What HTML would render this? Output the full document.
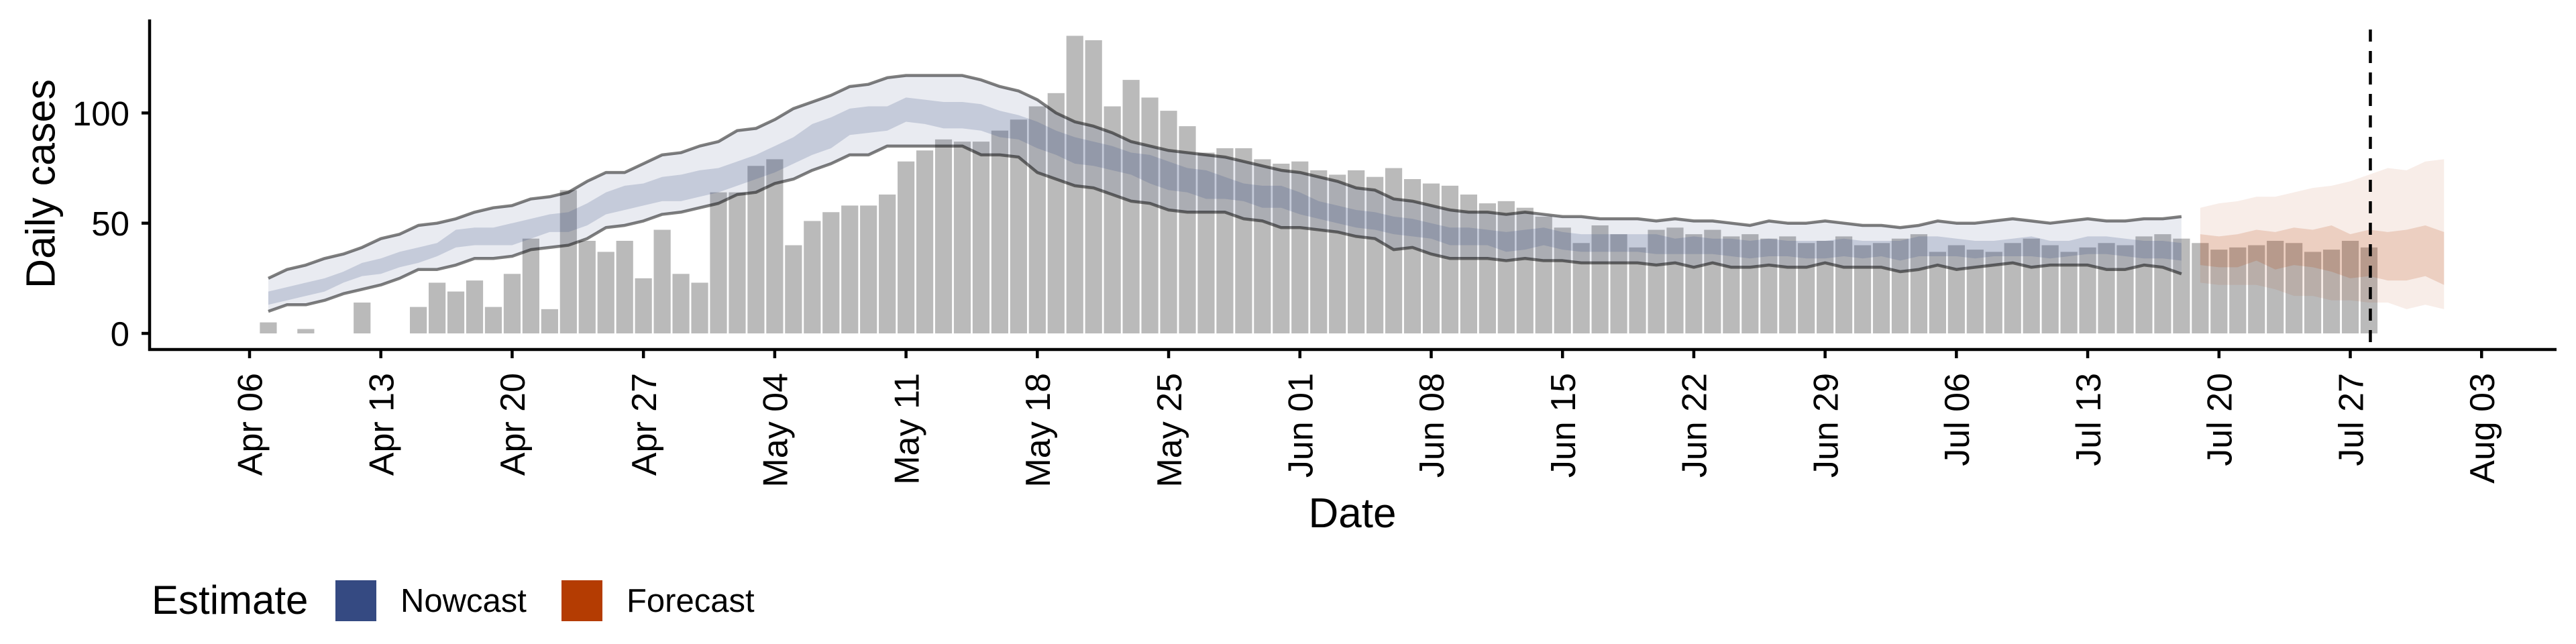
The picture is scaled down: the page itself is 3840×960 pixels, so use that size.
<!DOCTYPE html>
<html><head><meta charset="utf-8"><style>
html,body{margin:0;padding:0;background:#fff;}
svg{display:block;font-family:"Liberation Sans",Arial,sans-serif;}
</style></head><body>
<svg id="chart" width="3840" height="960" viewBox="0 0 3840 960" xmlns="http://www.w3.org/2000/svg">
<g id="bands"></g>
<g id="bars"></g>
<g id="ribbons"></g>
<g id="lines"></g>
<g id="axes"></g>
<text transform="translate(60,274) rotate(-90)" text-anchor="middle" font-size="61" dy="0.35em">Daily cases</text>
<text x="2016" y="786" text-anchor="middle" font-size="62">Date</text>
<g>
<text x="226" y="915" font-size="60">Estimate</text>
<rect x="500" y="865" width="61" height="61" fill="#354a82"/>
<text x="597" y="912" font-size="49">Nowcast</text>
<rect x="837" y="865" width="61" height="61" fill="#b43c02"/>
<text x="934" y="912" font-size="49">Forecast</text>
</g>
</svg>
<script>
// Reported cases, daily from Apr 07 to Jul 28
const casesApr = [5,0,2,0,0,14,0,0,12,23,19,24,12,27,43,11,65,42,37,42,25,47,27,23];
const casesMay = [64,64,76,79,40,51,55,58,58,63,78,83,88,87,87,92,97,103,109,135,133,103,115,107,101,94,82,84,84,79,77];
const casesJun = [78,74,72,74,71,75,70,68,67,63,59,60,57,53,48,41,49,45,39,47,48,45,47,44,45,43,44,41,42,44];
const casesJul = [40,41,43,45,37,40,38,37,41,43,40,37,39,41,40,44,45,43,41,38,39,40,42,41,37,38,42,39];
// Nowcast intervals, daily from Apr 07 to Jul 18
const nowUpper90 = [25,29,31,34,36,39,43,45,49,50,52,55,57,58,61,62,64,69,73,73,77,81,82,85,
 87,92,93,97,102,105,108,112,113,116,117,117,117,117,115,112,110,106,100,96,94,91,87,85,83,82,81,80,78,76,74,
 73,71,69,66,65,61,60,58,56,55,55,54,55,54,53,53,52,52,52,51,52,51,51,50,49,51,50,50,51,50,
 49,49,48,49,51,50,50,51,52,51,50,51,52,51,51,52,52,53];
const nowLower90 = [10,13,13,15,18,20,22,25,29,29,31,34,34,35,38,39,40,43,48,49,51,54,55,57,
 59,63,64,68,70,74,77,81,81,85,85,85,85,85,81,81,80,73,70,67,66,63,60,59,56,55,55,55,52,51,48,
 48,47,46,44,43,38,39,36,34,34,34,33,34,33,33,32,32,32,32,31,32,30,32,30,30,31,30,30,32,30,
 30,30,28,29,31,29,30,31,32,30,31,31,31,29,29,31,30,27];
const nowUpper50 = [19,21,23,25,28,32,34,37,39,41,47,48,48,50,52,54,55,59,64,67,68,71,72,74,
 75,78,81,85,89,95,98,102,103,103,107,106,105,105,104,101,99,96,92,89,87,85,82,81,78,75,74,71,68,67,67,
 64,60,58,56,55,53,52,50,48,48,47,46,47,48,46,45,45,45,45,45,43,44,43,43,42,43,42,42,42,43,
 42,42,42,44,44,43,42,42,43,44,42,42,44,44,43,42,42,41];
const nowLower50 = [13,15,17,19,23,26,27,30,32,35,39,40,40,40,43,46,46,49,54,56,58,60,60,62,
 64,67,70,73,77,81,84,90,91,92,96,95,93,93,92,89,88,84,81,77,76,74,72,68,65,64,61,61,60,57,57,
 54,52,50,48,47,45,44,43,40,40,40,37,38,40,38,37,37,37,37,36,36,36,36,35,34,35,35,34,34,35,
 34,35,33,35,35,35,34,35,35,35,34,35,36,36,35,34,34,33];
// Forecast intervals, daily from Jul 19 to Aug 01
const fcUpper90 = [57,59,60,62,62,64,66,67,69,72,75,74,78,79];
const fcLower90 = [23,22,22,22,20,17,17,15,15,14,14,11,13,11];
const fcUpper50 = [45,44,45,47,46,48,47,49,45,47,46,47,49,46];
const fcLower50 = [31,30,30,33,29,31,30,28,25,26,24,24,26,22];
// Axis ticks
const yTicks = [0,50,100];
const xTickLabels = ["Apr 06","Apr 13","Apr 20","Apr 27","May 04","May 11","May 18","May 25","Jun 01","Jun 08","Jun 15","Jun 22","Jun 29","Jul 06","Jul 13","Jul 20","Jul 27","Aug 03"];
const casesStartDay = 1;   // Apr 07 (days after Apr 06)
const nowStartDay = 1;     // Apr 07
const fcStartDay = 104;    // Jul 19
const forecastDateDay = 113; // Jul 28

const NS = "http://www.w3.org/2000/svg";
const X0 = 372, DAY = 27.96, Y0 = 497, UNIT = 3.286;
function xs(d){ return X0 + d*DAY; }
function ys(v){ return Y0 - v*UNIT; }
function mk(tag, attrs, parent){
  const e = document.createElementNS(NS, tag);
  for (const k in attrs) e.setAttribute(k, attrs[k]);
  parent.appendChild(e); return e;
}
const cases = casesApr.concat(casesMay, casesJun, casesJul);

// bars
const barsG = document.getElementById('bars');
cases.forEach((v,i)=>{
  const d = casesStartDay + i;
  const r = mk('rect', {x: xs(d)-12.6, y: ys(v), width: 25.2, height: v*UNIT, fill:'#bababa'}, barsG);
  
  
});

// ribbons
const ribG = document.getElementById('ribbons');
function ribbon(up, lo, start, color, op, name){
  let pts = up.map((v,i)=>xs(start+i)+','+ys(v));
  pts = pts.concat(lo.map((v,i)=>xs(start+i)+','+ys(v)).reverse());
  const p = mk('polygon', {points: pts.join(' '), fill: color, 'fill-opacity': op}, ribG);
  
  
}
ribbon(nowUpper90, nowLower90, nowStartDay, '#354a82', 0.11, 'nowcast-90-band');
ribbon(nowUpper50, nowLower50, nowStartDay, '#354a82', 0.2, 'nowcast-50-band');
ribbon(fcUpper90, fcLower90, fcStartDay, '#b43c02', 0.09, 'forecast-90-band');
ribbon(fcUpper50, fcLower50, fcStartDay, '#b43c02', 0.17, 'forecast-50-band');

// interval lines
const linesG = document.getElementById('lines');
function line(arr, start, name){
  const p = mk('polyline', {points: arr.map((v,i)=>xs(start+i)+','+ys(v)).join(' '), fill:'none', stroke:'#000', 'stroke-opacity':0.5, 'stroke-width':4.5, 'stroke-linejoin':'round'}, linesG);
  
  
}
line(nowUpper90, nowStartDay, 'nowcast-upper-line');
line(nowLower90, nowStartDay, 'nowcast-lower-line');

// dashed forecast-date line
const dl = mk('line', {x1: xs(forecastDateDay)+2, x2: xs(forecastDateDay)+2, y1: 44, y2: 521, stroke:'#000', 'stroke-width':4.5, 'stroke-dasharray':'18 14'}, linesG);



// axes
const axG = document.getElementById('axes');
const ya = mk('line', {x1:223, x2:223, y1:29, y2:523, stroke:'#000', 'stroke-width':4.5}, axG);


const xa = mk('line', {x1:221, x2:3811, y1:521, y2:521, stroke:'#000', 'stroke-width':4.5}, axG);


yTicks.forEach(v=>{
  const t = mk('line', {x1:211, x2:223, y1:ys(v), y2:ys(v), stroke:'#000', 'stroke-width':4.5}, axG);
  
  
  const l = mk('text', {x:193, y:ys(v), 'text-anchor':'end', dy:'0.36em', 'font-size':51}, axG);
  l.textContent = v;
  
  
});
xTickLabels.forEach((lab,i)=>{
  const x = xs(i*7);
  const t = mk('line', {x1:x, x2:x, y1:521, y2:534, stroke:'#000', 'stroke-width':4.5}, axG);
  
  
  const l = mk('text', {transform:'translate('+x+',556) rotate(-90)', 'text-anchor':'end', dy:'0.36em', 'font-size':52}, axG);
  l.textContent = lab;
  
  
});
</script>
</body></html>
